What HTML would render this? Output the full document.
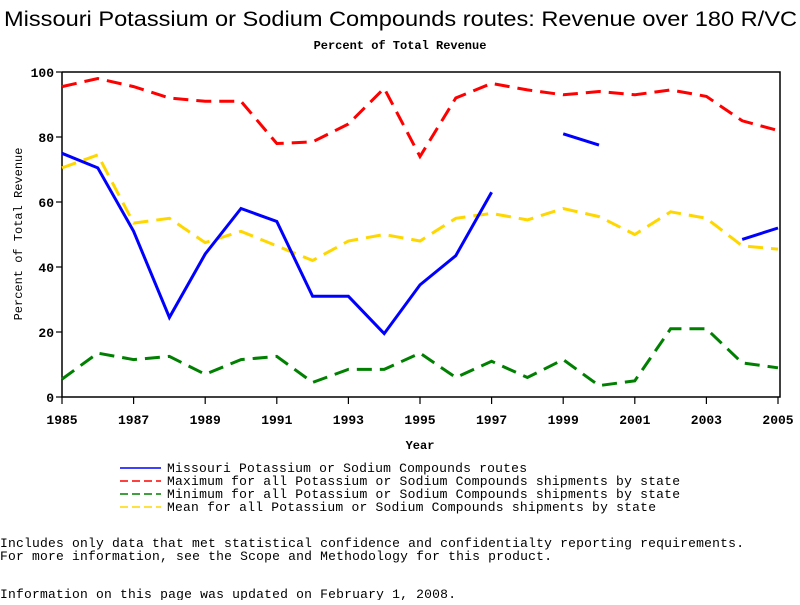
<!DOCTYPE html>
<html><head><style>
body{margin:0;background:#fff;width:800px;height:600px;overflow:hidden}
svg text{font-family:"Liberation Mono",monospace}
</style></head><body>
<svg width="800" height="600" xmlns="http://www.w3.org/2000/svg">
<text x="4" y="26" textLength="793" lengthAdjust="spacingAndGlyphs" style="font-family:'Liberation Sans',sans-serif" font-size="21">Missouri Potassium or Sodium Compounds routes: Revenue over 180 R/VC</text>
<text x="400" y="49" text-anchor="middle" font-size="12" font-weight="bold">Percent of Total Revenue</text>
<g stroke="#000" stroke-width="1.5" fill="none">
<polyline points="62,72 780,72 780,397 62,397 62,72"/>
</g>
<g stroke="#000" stroke-width="1.2">
<line x1="56" y1="72" x2="62" y2="72"/><line x1="56" y1="137" x2="62" y2="137"/><line x1="56" y1="202" x2="62" y2="202"/><line x1="56" y1="267" x2="62" y2="267"/><line x1="56" y1="332" x2="62" y2="332"/><line x1="56" y1="397" x2="62" y2="397"/>
<line x1="62" y1="397" x2="62" y2="404"/><line x1="133.6" y1="397" x2="133.6" y2="404"/><line x1="205.2" y1="397" x2="205.2" y2="404"/><line x1="276.8" y1="397" x2="276.8" y2="404"/><line x1="348.4" y1="397" x2="348.4" y2="404"/><line x1="420" y1="397" x2="420" y2="404"/><line x1="491.6" y1="397" x2="491.6" y2="404"/><line x1="563.2" y1="397" x2="563.2" y2="404"/><line x1="634.8" y1="397" x2="634.8" y2="404"/><line x1="706.4" y1="397" x2="706.4" y2="404"/><line x1="778" y1="397" x2="778" y2="404"/>
</g>
<g font-size="13" font-weight="bold" text-anchor="end">
<text x="54" y="77">100</text><text x="54" y="142">80</text><text x="54" y="207">60</text><text x="54" y="272">40</text><text x="54" y="337">20</text><text x="54" y="402">0</text>
</g>
<g font-size="13" font-weight="bold" text-anchor="middle">
<text x="62" y="424">1985</text><text x="133.6" y="424">1987</text><text x="205.2" y="424">1989</text><text x="276.8" y="424">1991</text><text x="348.4" y="424">1993</text><text x="420" y="424">1995</text><text x="491.6" y="424">1997</text><text x="563.2" y="424">1999</text><text x="634.8" y="424">2001</text><text x="706.4" y="424">2003</text><text x="778" y="424">2005</text>
<text x="420" y="449" font-size="12">Year</text>
</g>
<text transform="translate(22,234) rotate(-90)" text-anchor="middle" font-size="12">Percent of Total Revenue</text>
<g fill="none" stroke-width="3" stroke-dasharray="15,8">
<polyline stroke="#ff0000" points="62,86.6 97.8,78.5 133.6,86.6 169.4,98 205.2,101.3 241,101.3 276.8,143.5 312.6,141.9 348.4,124 384.2,88.3 420,156.5 455.8,98 491.6,83.4 527.4,89.9 563.2,94.8 599,91.5 634.8,94.8 670.6,89.9 706.4,96.4 742.2,120.8 778,130.5"/>
<polyline stroke="#ffd700" points="62,167.9 97.8,154.9 133.6,223.1 169.4,218.3 205.2,242.6 241,231.3 276.8,245.9 312.6,260.5 348.4,241 384.2,234.5 420,241 455.8,218.3 491.6,213.4 527.4,219.9 563.2,208.5 599,216.6 634.8,234.5 670.6,211.8 706.4,218.3 742.2,245.9 778,249.1"/>
<polyline stroke="#008000" points="62,379.1 97.8,353.1 133.6,359.6 169.4,356.4 205.2,374.3 241,359.6 276.8,356.4 312.6,382.4 348.4,369.4 384.2,369.4 420,353.1 455.8,377.5 491.6,361.3 527.4,377.5 563.2,359.6 599,385.6 634.8,380.8 670.6,328.8 706.4,328.8 742.2,362.9 778,367.8"/>
</g>
<g fill="none" stroke="#0000ff" stroke-width="3">
<polyline points="62,153.3 97.8,167.9 133.6,231.3 169.4,317.4 205.2,254 241,208.5 276.8,221.5 312.6,296.3 348.4,296.3 384.2,333.6 420,284.9 455.8,255.6 491.6,192.3"/>
<polyline points="563.2,133.8 599,145.1"/>
<polyline points="742.2,239.4 778,228"/>
</g>
<g stroke-width="1.5">
<line x1="120" y1="468" x2="161" y2="468" stroke="#0000ff"/>
<line x1="120" y1="481" x2="161" y2="481" stroke="#ff0000" stroke-dasharray="8,4"/>
<line x1="120" y1="494" x2="161" y2="494" stroke="#008000" stroke-dasharray="8,4"/>
<line x1="120" y1="507" x2="161" y2="507" stroke="#ffd700" stroke-dasharray="8,4"/>
</g>
<g font-size="13">
<text x="167" y="472" textLength="360">Missouri Potassium or Sodium Compounds routes</text>
<text x="167" y="485" textLength="513">Maximum for all Potassium or Sodium Compounds shipments by state</text>
<text x="167" y="498" textLength="513">Minimum for all Potassium or Sodium Compounds shipments by state</text>
<text x="167" y="511" textLength="489">Mean for all Potassium or Sodium Compounds shipments by state</text>
<text x="0" y="547" textLength="744">Includes only data that met statistical confidence and confidentialty reporting requirements.</text>
<text x="0" y="560" textLength="552">For more information, see the Scope and Methodology for this product.</text>
<text x="0" y="598" textLength="456">Information on this page was updated on February 1, 2008.</text>
</g>
</svg>
</body></html>
